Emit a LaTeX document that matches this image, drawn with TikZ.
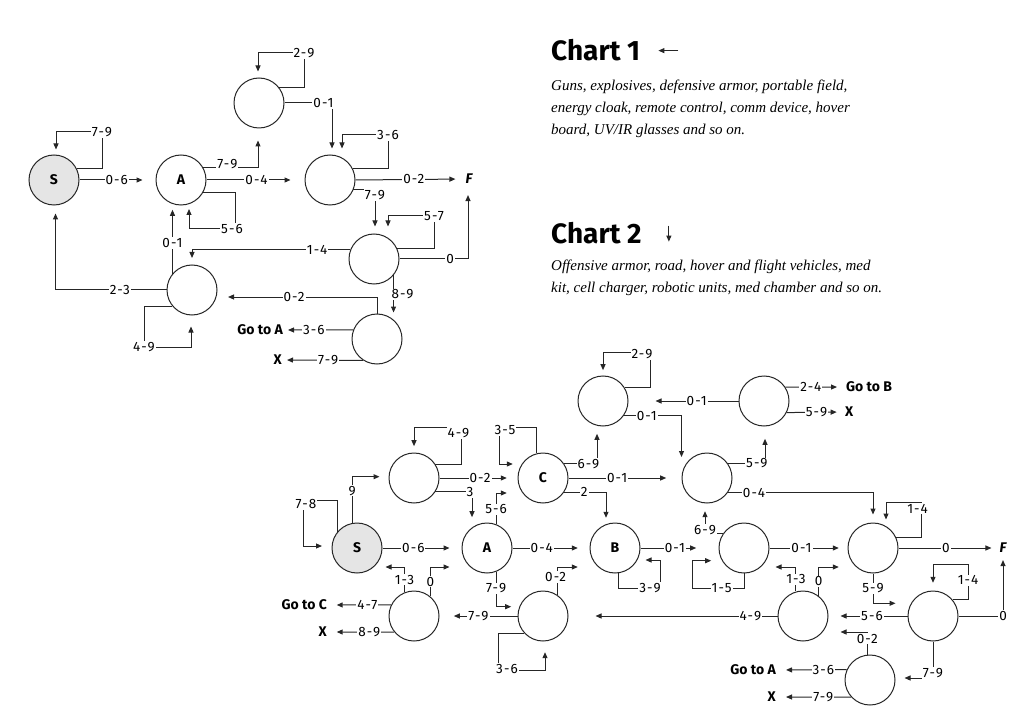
\documentclass[tikz,border=0pt]{standalone}
\usepackage{fontspec}
\setmainfont{Fira Sans}
\newfontfamily\lblfamily[LetterSpace=8]{Fira Sans}
\newfontfamily\descfamily{Liberation Serif}
\usetikzlibrary{arrows.meta,calc}
\begin{document}
\begin{tikzpicture}[x=1pt,y=-1pt,
  st/.style={circle,draw=black!85,line width=1pt,minimum size=50pt,inner sep=0pt,font=\fontsize{14}{16}\selectfont\bfseries},
  gst/.style={st,fill=black!10},
  arr/.style={draw=black!85,line width=1pt,-{Triangle[length=6pt,width=5pt]}},
  lbl/.style={fill=white,inner sep=1pt,font=\lblfamily\fontsize{13.5}{15}\selectfont},
  gt/.style={inner sep=0pt,font=\fontsize{14}{16}\selectfont\bfseries},
  fin/.style={inner sep=0pt,font=\fontsize{14}{16}\selectfont\bfseries\itshape},
  ttl/.style={anchor=base west,inner sep=0pt,font=\fontsize{28}{30}\selectfont\bfseries},
  dsc/.style={anchor=base west,inner sep=0pt,font=\descfamily\itshape\fontsize{15}{18}\selectfont},
]
\useasboundingbox (0,0) rectangle (1024,708);

% ---------------- titles and descriptions
\node[ttl] (t1) at (551,61) {Chart 1};
\draw[arr] ($(t1.east)+(38,0)$) -- ($(t1.east)+(18,0)$);
\node[dsc] (d1a) at (551,91) {Guns, explosives, defensive armor, portable field,};
\node[dsc] (d1b) at (551,113) {energy cloak, remote control, comm device, hover};
\node[dsc] (d1c) at (551,135) {board, UV/IR glasses and so on.};
\node[ttl] (t2) at (551,244) {Chart 2};
\draw[arr] ($(t2.east)+(27,-8)$) -- ($(t2.east)+(27,8)$);
\node[dsc] (d2a) at (551,271) {Offensive armor, road, hover and flight vehicles, med};
\node[dsc] (d2b) at (551,293) {kit, cell charger, robotic units, med chamber and so on.};

% ---------------- chart 1 nodes
\node[gst] (S1) at (54,180) {S};
\node[st] (A1) at (181,180) {A};
\node[st] (T1) at (259,103) {};
\node[st] (M1) at (330,180) {};
\node[st] (R1) at (374,259) {};
\node[st] (L1) at (192,290) {};
\node[st] (B1) at (377,339) {};
\node[fin] (F1) at (469,179) {F};
\node[gt,anchor=east] (GA1) at (283,330) {Go to A};
\node[gt,anchor=east] (X1) at (282,360) {X};

% ---------------- chart 1 connectors
\draw[arr,shorten >=5pt] (S1.28) -| ($(S1)+(48,-48)$) node[lbl]{7-9} -| ($(S1.north)+(2,0)$);
\draw[arr,shorten >=13pt] (S1.east) -- (A1.west) node[lbl,pos=0.49]{0-6};
\draw[arr,shorten >=12pt] (A1.29) -| ($(T1.south)+(-1,0)$) node[lbl,pos=0.22,yshift=4pt]{7-9};
\draw[arr,shorten >=14pt] (A1.east) -- (M1.west) node[lbl,pos=0.51]{0-4};
\draw[arr,shorten >=3.5pt] (A1.-30) -| ($(A1)+(54,49)$) node[lbl,xshift=-3pt]{5-6} -| ($(A1.south)+(8,0)$);
\draw[arr,shorten >=6pt] (T1.37) -| ($(T1)+(45,-50)$) node[lbl]{2-9} -| ($(T1.north)+(-1,0)$);
\draw[arr,shorten >=6pt] (T1.east) -| ($(M1.north)+(2,0)$) node[lbl,pos=0.41]{0-1};
\draw[arr,shorten >=6pt] (M1.28) -| ($(M1)+(58,-45)$) node[lbl]{3-6} -| ($(M1.north)+(12,0)$);
\draw[arr,shorten >=10pt] (M1.east) -- (F1.west) node[lbl,pos=0.53]{0-2};
\draw[arr,shorten >=7pt] (M1.-23) -| ($(R1.north)+(1,0)$) node[lbl,pos=0.5,yshift=-5pt]{7-9};
\draw[arr,shorten >=7pt] (R1.24) -| ($(R1)+(60,-43)$) node[lbl]{5-7} -| ($(R1.north)+(14,0)$);
\draw[arr,shorten >=11pt] (R1.east) -| ($(F1.south)+(-1,0)$) node[lbl,pos=0.37]{0};
\draw[arr,shorten >=6.5pt] (R1.158) -| (L1.north) node[lbl,pos=0.105]{1-4};
\draw[arr,shorten >=1pt] (R1.-40) -- (R1.-40 |- B1.north) node[lbl,pos=0.5,xshift=9pt]{8-9};
\draw[arr,shorten >=10.5pt] (B1.north) |- ($(L1.east)+(0,7)$) node[lbl,pos=0.76]{0-2};
\draw[arr,shorten >=5pt] (B1.159) -- (GA1.east) node[lbl,pos=0.56]{3-6};
\draw[arr,shorten >=5pt] (B1.237) -- (X1.east) node[lbl,pos=0.43]{7-9};
\draw[arr,shorten >=4.3pt] (L1.140) -- (L1.140 |- A1.south) node[lbl,pos=0.45]{0-1};
\draw[arr,shorten >=8pt] (L1.west) -| ($(S1.south)+(1.5,0)$) node[lbl,pos=0.21]{2-3};
\draw[arr,shorten >=11pt] (L1.220) -| ($(L1)+(-48,57)$) node[lbl]{4-9} -| ($(L1.south)+(-1,0)$);

% ---------------- chart 2 nodes
\node[gst] (S2) at (357,548) {S};
\node[st] (A2) at (487,548) {A};
\node[st] (B2) at (615,548) {B};
\node[st] (C2) at (543,478) {C};
\node[st] (U2) at (414,478) {};
\node[st] (P2) at (603,401) {};
\node[st] (Q2) at (414,616) {};
\node[st] (W2) at (543,616) {};
\node[st] (R2) at (764,401) {};
\node[st] (M2) at (707,478) {};
\node[st] (D2) at (744,548) {};
\node[st] (E2) at (873,548) {};
\node[st] (G2) at (803,616) {};
\node[st] (H2) at (933,616) {};
\node[st] (K2) at (870,680) {};
\node[fin] (F2) at (1003,548) {F};
\node[gt,anchor=east] (GC2) at (327,605) {Go to C};
\node[gt,anchor=east] (X2a) at (327,632) {X};
\node[gt,anchor=west] (GB2) at (846,387) {Go to B};
\node[gt,anchor=west] (X2b) at (845,412) {X};
\node[gt,anchor=east] (GA2) at (776,670) {Go to A};
\node[gt,anchor=east] (X2c) at (776,697) {X};

% ---------------- chart 2 connectors
\draw[arr,shorten >=9.5pt] (S2.140) |- ($(S2)+(-54,-48)$) node[lbl,xshift=3pt,yshift=-4pt]{7-8} |- ($(S2.west)+(0,-2)$);
\draw[arr,shorten >=9pt] (S2.101) |- ($(U2.west)+(0,-1.3)$) node[lbl,pos=0.35]{9};
\draw[arr,shorten >=12pt] (S2.east) -- (A2.west) node[lbl,pos=0.39]{0-6};
\draw[arr,shorten >=6.3pt] (U2.33) -| ($(U2)+(47,-51)$) node[lbl,xshift=-2.5pt,yshift=-6pt]{4-9} -| (U2.north);
\draw[arr,shorten >=10.7pt] (U2.east) -- (C2.west) node[lbl,pos=0.52]{0-2};
\draw[arr,shorten >=5.3pt] (U2.-33) -| ($(A2.north)+(-15,0)$) node[lbl,pos=0.5,xshift=-2pt]{3};
\draw[arr,shorten >=4.7pt] (C2.104) |- ($(C2)+(-44,-51)$) node[lbl,xshift=6pt,yshift=-3pt]{3-5} |- ($(C2.west)+(0,-14)$);
\draw[arr,shorten >=7.3pt] (C2.34) -| ($(P2.south)+(-6,0)$) node[lbl,pos=0.37]{6-9};
\draw[arr,shorten >=15.3pt] (C2.east) -- (M2.west) node[lbl,pos=0.43]{0-1};
\draw[arr,shorten >=4.7pt] (C2.-34) -| ($(B2.north)+(-9,0)$) node[lbl,pos=0.24]{2};
\draw[arr,shorten >=10.7pt] (A2.69) |- ($(C2.west)+(0,15)$) node[lbl,pos=0.24]{5-6};
\draw[arr,shorten >=11.7pt] (A2.east) -- (B2.west) node[lbl,pos=0.38]{0-4};
\draw[arr,shorten >=6.3pt] (A2.-69) |- ($(W2.west)+(0,-9.3)$) node[lbl,pos=0.24]{7-9};
\draw[arr,shorten >=5pt] (B2.-82) |- ($(B2)+(45,40)$) node[lbl,pos=0.88]{3-9} |- ($(B2.east)+(0,12)$);
\draw[arr,shorten >=22.3pt] (B2.east) -- (D2.west) node[lbl,pos=0.44]{0-1};
\draw[arr,shorten >=3pt] (Q2.112) |- ($(S2.east)+(0,19)$) node[lbl,pos=0.25]{1-3};
\draw[arr,shorten >=12pt] (Q2.50) |- ($(A2.west)+(0,19)$) node[lbl,pos=0.25]{0};
\draw[arr,shorten >=9.7pt] (Q2.154) -- (GC2.east) node[lbl,pos=0.37]{4-7};
\draw[arr,shorten >=9.7pt] (Q2.219) -- (X2a.east) node[lbl,pos=0.37]{8-9};
\draw[arr,shorten >=14.3pt] (W2.west) -- (Q2.east) node[lbl,pos=0.5]{7-9};
\draw[arr,shorten >=11.7pt] (W2.55) |- ($(B2.west)+(0,19)$) node[lbl,pos=0.32,xshift=-2pt]{0-2};
\draw[arr,shorten >=10.7pt] (W2.222) -| ($(W2)+(-45,54)$) node[lbl,xshift=9pt,yshift=1pt]{3-6} -| ($(W2.south)+(2,0)$);
\draw[arr,shorten >=27pt] (G2.west) -- (W2.east) node[lbl,pos=0.13]{4-9};
\draw[arr,shorten >=5.3pt] (P2.32) -| ($(P2)+(47,-49)$) node[lbl,xshift=-8pt,yshift=-2pt]{2-9} -| (P2.north);
\draw[arr,shorten >=27pt] (R2.west) -- (P2.east) node[lbl,pos=0.38]{0-1};
\draw[arr,shorten >=9pt] (R2.33) -- (GB2.west) node[lbl,pos=0.42]{2-4};
\draw[arr,shorten >=8.3pt] (R2.-27) -- (X2b.west) node[lbl,pos=0.51]{5-9};
\draw[arr] (P2.-36) -| ($(M2.west)+(0,-21)$) node[lbl,pos=0.2]{0-1};
\draw[arr,shorten >=12.3pt] (M2.35) -| ($(R2.south)+(1,0)$) node[lbl,pos=0.39]{5-9};
\draw[arr,shorten >=8pt] (M2.-35) -| (E2.north) node[lbl,pos=0.09]{0-4};
\draw[arr,shorten >=7.7pt] (D2.144) -| ($(M2.south)+(-2,0)$) node[lbl,pos=0.5,yshift=3pt]{6-9};
\draw[arr,shorten >=7.3pt] (D2.-88) |- ($(D2)+(-52,40)$) node[lbl,pos=0.72]{1-5} |- ($(D2.west)+(0,12.7)$);
\draw[arr,shorten >=8.7pt] (D2.east) -- (E2.west) node[lbl,pos=0.41]{0-1};
\draw[arr,shorten >=3pt] (E2.24) -| ($(E2)+(48,-46)$) node[lbl,xshift=-3.5pt,yshift=-6.5pt]{1-4} -| ($(E2.north)+(13,0)$);
\draw[arr,shorten >=8pt] (E2.east) -- (F2.west) node[lbl,pos=0.47]{0};
\draw[arr,shorten >=12pt] (E2.south) |- ($(H2.west)+(0,-12.7)$) node[lbl,pos=0.25]{5-9};
\draw[arr,shorten >=6pt] (G2.106) |- ($(D2.east)+(0,19)$) node[lbl,pos=0.25]{1-3};
\draw[arr,shorten >=8.7pt] (G2.52) |- ($(E2.west)+(0,19)$) node[lbl,pos=0.25]{0};
\draw[arr,shorten >=12pt] (H2.west) -- (G2.east) node[lbl,pos=0.45]{5-6};
\draw[arr,shorten >=7.7pt] (H2.40) -| ($(H2)+(35,-52)$) node[lbl,pos=0.77]{1-4} -| (H2.north);
\draw[arr,shorten >=7pt] (H2.east) -| (F2.south) node[lbl,pos=0.5]{0};
\draw[arr,shorten >=12pt] (K2.96) |- ($(G2.east)+(0,16)$) node[lbl,pos=0.5,yshift=-6.5pt]{0-2};
\draw[arr,shorten >=9pt] (H2.south) |- ($(K2.east)+(0,-2)$) node[lbl,pos=0.5,yshift=5pt]{7-9};
\draw[arr,shorten >=10pt] (K2.156) -- (GA2.east) node[lbl,pos=0.33]{3-6};
\draw[arr,shorten >=10pt] (K2.222) -- (X2c.east) node[lbl,pos=0.37]{7-9};
\end{tikzpicture}
\end{document}
